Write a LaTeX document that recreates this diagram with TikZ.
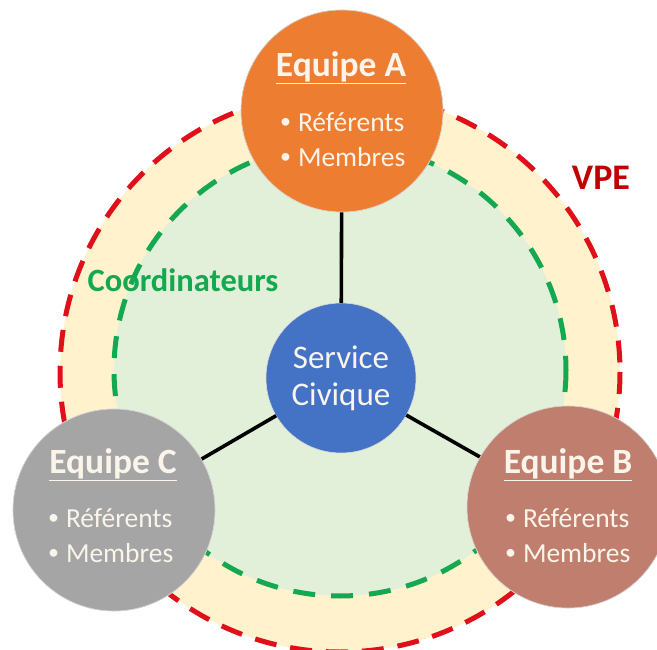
\documentclass[tikz,border=0pt]{standalone}
\usepackage{fontspec}
\setmainfont{Carlito}
\definecolor{cream}{HTML}{FFF2CC}
\definecolor{lgreen}{HTML}{E2F0D9}
\definecolor{dred}{HTML}{E0101A}
\definecolor{dgreen}{HTML}{14A850}
\definecolor{vpered}{HTML}{C00000}
\definecolor{orangeA}{HTML}{ED7D31}
\definecolor{brownB}{HTML}{C07F6E}
\definecolor{grayC}{HTML}{A5A5A5}
\definecolor{blueS}{HTML}{4472C4}
\definecolor{txt}{HTML}{FBF4EA}
\tikzset{
  team/.style={circle, minimum size=202pt, inner sep=0pt, outer sep=0pt, draw=white!85!black, line width=0.6pt},
  hub/.style={circle, minimum size=150pt, inner sep=0pt, outer sep=0pt, fill=blueS, draw=white!85!black, line width=0.6pt,
     text=txt, align=center, font=\fontsize{33}{37}\selectfont},
  ttl/.style={text=txt, font=\fontsize{35.5}{40}\selectfont\bfseries, inner sep=0pt},
  item/.style={text=txt, font=\fontsize{27.5}{32}\selectfont, inner sep=0pt, anchor=west},
  link/.style={line width=3.6pt, black},
  ring/.style={line width=5pt, dash pattern=on 22pt off 14pt}
}
\newcommand{\bul}{\raisebox{0.12em}{\scalebox{0.8}{\textbullet}}\hspace{0.25em}}
\begin{document}
\begin{tikzpicture}[x=1pt,y=-1pt]
\useasboundingbox (0,0) rectangle (657,650);
% rings
\fill[cream] (340,372) circle (280);
\fill[lgreen] (340,370) circle (226);
\draw[ring, dred] (340,372) circle (280);
\draw[ring, dgreen, dash pattern=on 22pt off 16pt] (340,370) circle (226);
% hub and teams
\node[hub] (sc) at (341,378) {Service\\Civique};
\node[team, fill=orangeA] (ea) at (342,111) {};
\node[team, fill=brownB] (eb) at (568,507) {};
\node[team, fill=grayC] (ec) at (114,510) {};
\draw[link] (sc) -- (ea);
\draw[link] (sc) -- (eb);
\draw[link] (sc) -- (ec);
\node[team, fill=orangeA] at (ea) {};
\node[team, fill=brownB] at (eb) {};
\node[team, fill=grayC] at (ec) {};
% team texts
\node[ttl] (ta) at (341,68) {\underline{Equipe A}};
\node[item] (ra) at (280,122) {\bul Référents};
\node[item] (ma) at (280,157) {\bul Membres};
\node[ttl] (tb) at (568,465) {\underline{Equipe B}};
\node[item] (rb) at (505,518) {\bul Référents};
\node[item] (mb) at (505,553) {\bul Membres};
\node[ttl] (tc) at (113,465) {\underline{Equipe C}};
\node[item] (rc) at (48,518) {\bul Référents};
\node[item] (mc) at (48,553) {\bul Membres};
% ring labels
\node[text=dgreen, font=\fontsize{32.5}{36}\selectfont\bfseries, inner sep=0pt] (coord) at (183,280) {Coordinateurs};
\node[text=vpered, font=\fontsize{36}{40}\selectfont\bfseries, inner sep=0pt] (vpe) at (601,178) {VPE};
\end{tikzpicture}
\end{document}
